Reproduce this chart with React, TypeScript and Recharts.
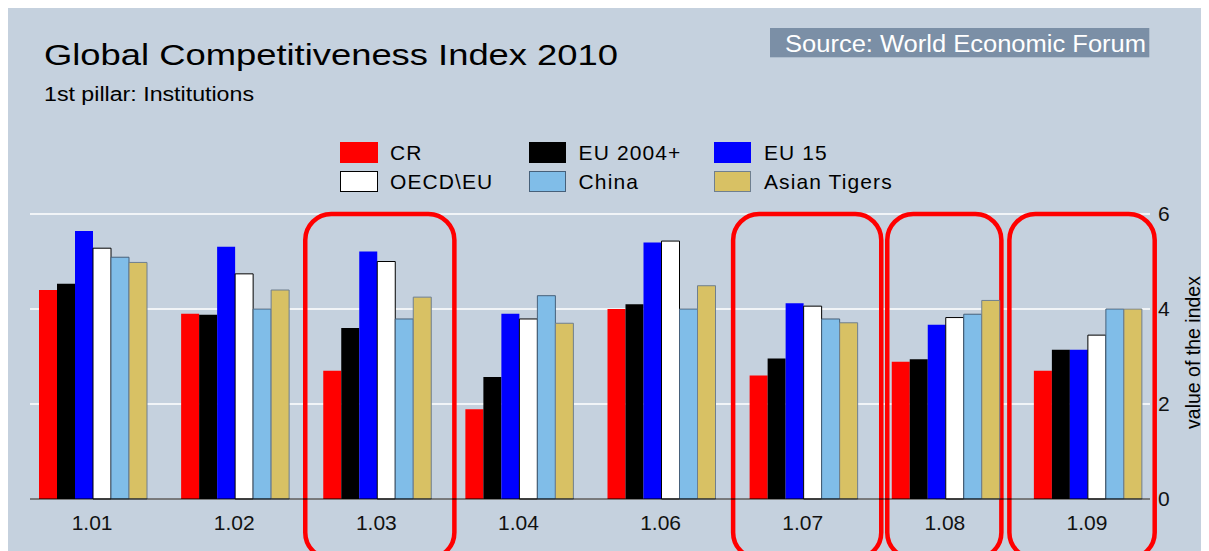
import React from "react";
import {
  Bar,
  BarChart,
  CartesianGrid,
  ReferenceArea,
  XAxis,
  YAxis,
} from "recharts";

const categories = ["1.01", "1.02", "1.03", "1.04", "1.06", "1.07", "1.08", "1.09"];
const cr = [4.4, 3.9, 2.7, 1.89, 4.0, 2.6, 2.89, 2.7];
const eu2004 = [4.53, 3.88, 3.6, 2.57, 4.1, 2.96, 2.94, 3.14];
const eu15 = [5.64, 5.31, 5.21, 3.9, 5.4, 4.12, 3.67, 3.14];
const oecd = [5.28, 4.74, 5.0, 3.79, 5.43, 4.06, 3.82, 3.45];
const china = [5.09, 4.0, 3.79, 4.28, 4.0, 3.79, 3.89, 4.0];
const tigers = [4.98, 4.4, 4.25, 3.7, 4.49, 3.71, 4.18, 4.0];
const yTicks = [0, 2, 4, 6];
const highlighted = ["1.03", "1.07", "1.08", "1.09"];

const data = categories.map((name, i) => ({
  name,
  cr: cr[i],
  eu2004: eu2004[i],
  eu15: eu15[i],
  oecd: oecd[i],
  china: china[i],
  tigers: tigers[i],
}));

const series = [
  { key: "cr", label: "CR", fill: "#ff0000", stroke: "none" },
  { key: "eu2004", label: "EU 2004+", fill: "#000000", stroke: "none" },
  { key: "eu15", label: "EU 15", fill: "#0000ff", stroke: "none" },
  { key: "oecd", label: "OECD\\EU", fill: "#ffffff", stroke: "#000000" },
  { key: "china", label: "China", fill: "#80bde8", stroke: "#46607a" },
  { key: "tigers", label: "Asian Tigers", fill: "#d8c164", stroke: "#6f7f8f" },
];

// hand-drawn red boxes don't sit exactly on the bands
const boxPad: Record<string, [number, number]> = {
  "1.03": [0, 7],
  "1.07": [1.5, 7.5],
  "1.08": [13.5, -14.5],
  "1.09": [-6.5, -3.3],
};

const FONT = "'Liberation Sans', Arial, sans-serif";
const BG = "#c5d1de";

function LegendGrid() {
  return (
    <div
      style={{
        position: "absolute",
        left: 332,
        top: 134,
        display: "grid",
        gridTemplateColumns: "188.6px 185.4px 200px",
        gridAutoRows: "28.7px",
        fontFamily: FONT,
        fontSize: 21,
        letterSpacing: "1.1px",
        color: "#000",
      }}
    >
      {series.map((s) => (
        <div key={s.key} style={{ display: "flex", alignItems: "flex-start" }}>
          <span
            style={{
              boxSizing: "border-box",
              width: 37.5,
              height: 21.3,
              background: s.fill,
              border: s.stroke === "none" ? "none" : `1px solid ${s.stroke}`,
              marginRight: 12.5,
            }}
          />
          <span style={{ lineHeight: "21.3px" }}>{s.label}</span>
        </div>
      ))}
    </div>
  );
}

function HighlightBox(props: any) {
  const pad = boxPad[props.cat] || [0, 0];
  return (
    <rect
      x={props.x + pad[0]}
      y={props.y}
      width={props.width - pad[0] + pad[1]}
      height={props.height}
      rx={26}
      ry={26}
      fill="none"
      stroke="#ff0000"
      strokeWidth={4.5}
    />
  );
}

function AxisTitle(props: any) {
  const vb = props.viewBox;
  const x = vb.x + 43;
  const y = vb.y + vb.height / 2 - 4;
  return (
    <text
      x={x}
      y={y}
      transform={`rotate(-90, ${x}, ${y})`}
      textAnchor="middle"
      dominantBaseline="central"
      fontFamily={FONT}
      fontSize={19.5}
      fill="#000"
    >
      value of the index
    </text>
  );
}

export default function App() {
  return (
    <div style={{ position: "relative", width: 1201, height: 543, background: BG }}>
      <svg
        width={1201}
        height={543}
        style={{ position: "absolute", left: 0, top: 0, pointerEvents: "none" }}
      >
        <text x={36} y={57} fontFamily={FONT} fontSize={29} fill="#000" textLength={574} lengthAdjust="spacingAndGlyphs">
          Global Competitiveness Index 2010
        </text>
        <text x={36} y={93} fontFamily={FONT} fontSize={20} fill="#000" textLength={210} lengthAdjust="spacingAndGlyphs">
          1st pillar: Institutions
        </text>
        <rect x={762} y={20} width={379.3} height={29.3} fill="#7b8fa6" />
        <text x={777} y={43.7} fontFamily={FONT} fontSize={23} fill="#ffffff" textLength={361} lengthAdjust="spacingAndGlyphs">
          Source: World Economic Forum
        </text>
      </svg>
      <LegendGrid />
      <BarChart
        width={1201}
        height={543}
        data={data}
        margin={{ top: 206, right: 9, bottom: 22, left: 22 }}
        barCategoryGap={18}
        barGap={0}
        style={{ position: "absolute", left: 0, top: 0 }}
      >
        <CartesianGrid vertical={false} stroke="#ffffff" strokeWidth={1.5} />
        <XAxis
          dataKey="name"
          height={30}
          padding={{ left: -9, right: -8 }}
          tickLine={false}
          axisLine={{ stroke: "#000", strokeWidth: 1 }}
          tickMargin={10}
          tick={{ fontSize: 21, fill: "#111", fontFamily: FONT }}
        />
        <YAxis
          orientation="right"
          domain={[0, 6]}
          ticks={yTicks}
          width={50}
          axisLine={false}
          tickLine={false}
          tick={{ fontSize: 21, fill: "#111", fontFamily: FONT }}
          label={<AxisTitle />}
        />
        {series.map((s) => (
          <Bar
            key={s.key}
            dataKey={s.key}
            name={s.label}
            fill={s.fill}
            stroke={s.stroke}
            strokeWidth={s.stroke === "none" ? 0 : 1}
            isAnimationActive={false}
          />
        ))}
        {highlighted.map((c) => (
          <ReferenceArea
            key={c}
            x1={c}
            x2={c}
            y1={-1.25}
            y2={6}
            ifOverflow="visible"
            shape={(p: any) => <HighlightBox {...p} cat={c} />}
          />
        ))}
      </BarChart>
    </div>
  );
}
